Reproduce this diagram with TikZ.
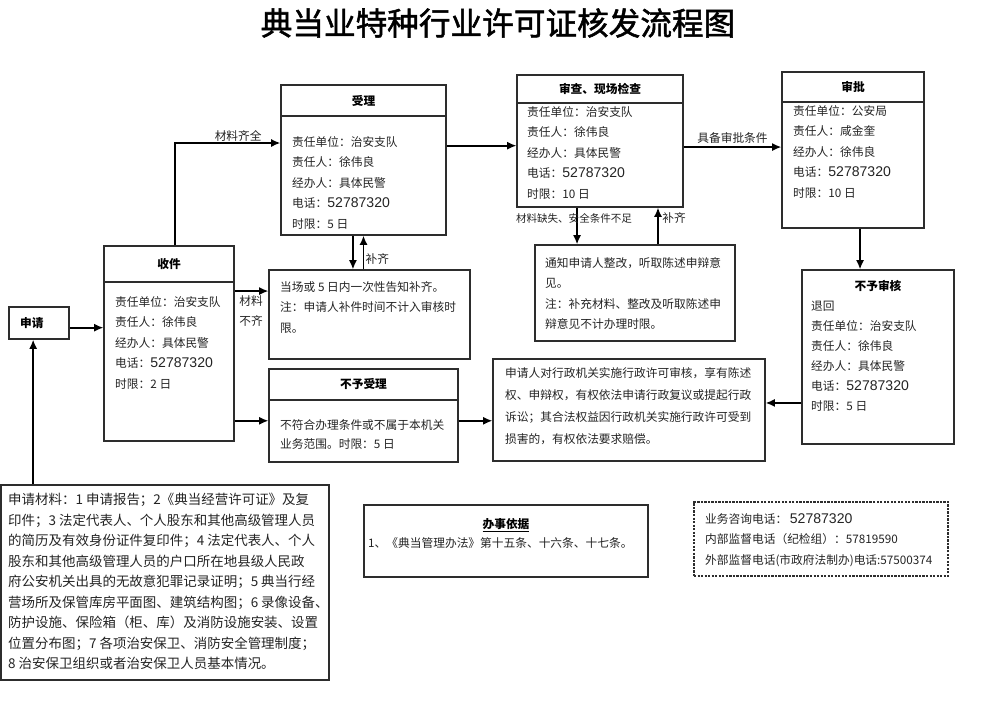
\documentclass[tikz,border=0pt]{standalone}
\usepackage{fontspec}
\setmainfont{Noto Sans CJK SC}
\newfontfamily\numfont{Liberation Sans}
\newfontfamily\titlefont{Noto Sans CJK SC}[FakeBold=1.6]
\usepackage{tikz}
\usetikzlibrary{arrows.meta, positioning, calc, fit}

\definecolor{linegray}{RGB}{45,45,45}
\definecolor{textgray}{RGB}{35,35,35}

\newcommand\telno[1]{{\numfont\fontsize{12}{12}\selectfont #1}}

\tikzset{
	box/.style={draw=linegray, line width=1pt, inner sep=0pt},
	hdtext/.style={inner sep=0pt, font=\bfseries\fontsize{10}{12}\selectfont},
	body/.style={anchor=north west, align=left, inner sep=0pt, text=textgray, font=\fontsize{10}{17.5}\selectfont},
	lbl/.style={inner sep=1pt, text=textgray, font=\fontsize{10}{12}\selectfont},
	arr/.style={draw=black, line width=1.5pt, -{Latex[length=8pt,width=7pt]}}
}

\begin{document}
\begin{tikzpicture}[x=0.03cm, y=-0.03cm]
	\useasboundingbox (0,0) rectangle (983,712);

	\node[font=\titlefont\fontsize{27}{27}\selectfont] (title) at (498,23) {典当业特种行业许可证核发流程图};

	% boxes
	\node[box, fit={(9,307) (69,339)}] (shenqing) {};
	\node[hdtext, anchor=west] (shenqing-hd) at (20,323) {申请};

	\node[box, fit={(104,246) (234,441)}] (shoujian) {};
	\node[box, fit={(104,246) (234,282)}] (shoujian-hd) {};
	\node[hdtext] at (shoujian-hd) {收件};
	\node[body] (shoujian-txt) at (115,296) {责任单位：治安支队\\责任人：徐伟良\\经办人：具体民警\\电话：\telno{52787320}\\时限：2 日};

	\node[box, fit={(281,85) (446,235)}] (shouli) {};
	\node[box, fit={(281,85) (446,116)}] (shouli-hd) {};
	\node[hdtext] at (shouli-hd) {受理};
	\node[body] (shouli-txt) at (292,136) {责任单位：治安支队\\责任人：徐伟良\\经办人：具体民警\\电话：\telno{52787320}\\时限：5 日};

	\node[box, fit={(517,75) (683,207)}] (shencha) {};
	\node[box, fit={(517,75) (683,103)}] (shencha-hd) {};
	\node[hdtext] at (shencha-hd) {审查、现场检查};
	\node[body] (shencha-txt) at (527,106) {责任单位：治安支队\\责任人：徐伟良\\经办人：具体民警\\电话：\telno{52787320}\\时限：10 日};

	\node[box, fit={(782,72) (924,228)}] (shenpi) {};
	\node[box, fit={(782,72) (924,102)}] (shenpi-hd) {};
	\node[hdtext] at (shenpi-hd) {审批};
	\node[body] (shenpi-txt) at (793,105) {责任单位：公安局\\责任人：咸金奎\\经办人：徐伟良\\电话：\telno{52787320}\\时限：10 日};

	\node[box, fit={(802,270) (954,444)}] (buyushenhe) {};
	\node[hdtext] (buyushenhe-hd) at (878,286) {不予审核};
	\node[body, font=\fontsize{10}{17}\selectfont] (buyushenhe-txt) at (811,301) {退回\\责任单位：治安支队\\责任人：徐伟良\\经办人：具体民警\\电话：\telno{52787320}\\时限：5 日};

	\node[box, fit={(269,270) (470,359)}] (dangchang) {};
	\node[body] (dangchang-txt) at (280,281) {当场或 5 日内一次性告知补齐。\\注：申请人补件时间不计入审核时\\限。};

	\node[box, fit={(269,369) (458,462)}] (buyushouli) {};
	\node[box, fit={(269,369) (458,400)}] (buyushouli-hd) {};
	\node[hdtext] at (buyushouli-hd) {不予受理};
	\node[body, font=\fontsize{10}{16.5}\selectfont] (buyushouli-txt) at (280,419) {不符合办理条件或不属于本机关\\业务范围。时限：5 日};

	\node[box, fit={(535,245) (735,341)}] (tongzhi) {};
	\node[body] (tongzhi-txt) at (545,257) {通知申请人整改，听取陈述申辩意\\见。\\注：补充材料、整改及听取陈述申\\辩意见不计办理时限。};

	\node[box, fit={(493,359) (765,461)}] (quanli) {};
	\node[body, font=\fontsize{10}{18.8}\selectfont] (quanli-txt) at (505,367) {申请人对行政机关实施行政许可审核，享有陈述\\权、申辩权，有权依法申请行政复议或提起行政\\诉讼；其合法权益因行政机关实施行政许可受到\\损害的，有权依法要求赔偿。};

	\node[box, fit={(1,485) (329,680)}] (cailiao) {};
	\node[body, font=\fontsize{11.5}{17.5}\selectfont] (cailiao-txt) at (8,493) {申请材料：1 申请报告；2《典当经营许可证》及复\\印件；3 法定代表人、个人股东和其他高级管理人员\\的简历及有效身份证件复印件；4 法定代表人、个人\\股东和其他高级管理人员的户口所在地县级人民政\\府公安机关出具的无故意犯罪记录证明；5 典当行经\\营场所及保管库房平面图、建筑结构图；6 录像设备、\\防护设施、保险箱（柜、库）及消防设施安装、设置\\位置分布图；7 各项治安保卫、消防安全管理制度；\\8 治安保卫组织或者治安保卫人员基本情况。};

	\node[box, fit={(364,505) (648,577)}] (yiju) {};
	\node[hdtext] (yiju-hd) at (506,525) {\underline{办事依据}};
	\node[lbl, anchor=west, inner sep=0pt] (yiju-txt) at (368,543) {1、《典当管理办法》第十五条、十六条、十七条。};

	\node[box, dash pattern=on 2pt off 1pt, fit={(694,502) (948,576)}] (dianhua) {};
	\node[body] (dianhua-txt) at (705,513) {业务咨询电话：\ \telno{52787320}\\内部监督电话（纪检组）：57819590\\外部监督电话(市政府法制办)电话:57500374};

	% arrows
	\draw[arr] ([yshift=-4pt]shenqing.east) -- ([yshift=-4pt]shenqing.east -| shoujian.west);
	\draw[arr] ([xshift=-5pt]shenqing.south |- cailiao.north) -- ([xshift=-5pt]shenqing.south);
	\draw[arr] ([xshift=5pt]shoujian.north) |- ([yshift=14.5pt]shouli.west)
		node[lbl, pos=0.8, above] (qiquan) {材料齐全};
	\draw[arr] ([yshift=20pt]dangchang.west -| shoujian.east) -- ([yshift=20pt]dangchang.west);
	\node[lbl, font=\fontsize{10}{17}\selectfont, align=center] (buqi) at (251,311) {材料\\不齐};
	\draw[arr] ([yshift=-4.5pt]buyushouli.west -| shoujian.east) -- ([yshift=-4.5pt]buyushouli.west);
	\draw[arr] ([yshift=-4.5pt]buyushouli.east) -- ([yshift=-4.5pt]buyushouli.east -| quanli.west);

	\draw[arr] ([xshift=-9pt]shouli.south) -- ([xshift=-9pt]shouli.south |- dangchang.north);
	\draw[arr] (shouli.south |- dangchang.north) -- (shouli.south)
		node[lbl, pos=0.3, right] (buqi-a) {补齐};
	\draw[arr] ([yshift=-4pt]shencha.west -| shouli.east) -- ([yshift=-4pt]shencha.west);
	\draw[arr] ([yshift=2.5pt]shenpi.west -| shencha.east) -- ([yshift=2.5pt]shenpi.west)
		node[lbl, midway, above=1pt] (tiaojian) {具备审批条件};

	\draw[arr] ([xshift=-19.6pt]shencha.south) -- ([xshift=-19.6pt]shencha.south |- tongzhi.north);
	\draw[arr] ([xshift=49.5pt]shencha.south |- tongzhi.north) -- ([xshift=49.5pt]shencha.south);
	\node[lbl, font=\fontsize{9}{11}\selectfont] (queshi) at (574,218) {材料缺失、安全条件不足};
	\node[lbl] (buqi-b) at (674,218) {补齐};

	\draw[arr] ([xshift=6pt]shenpi.south) -- ([xshift=6pt]shenpi.south |- buyushenhe.north);
	\draw[arr] ([yshift=6pt]quanli.east -| buyushenhe.west) -- ([yshift=6pt]quanli.east);
\end{tikzpicture}
\end{document}
